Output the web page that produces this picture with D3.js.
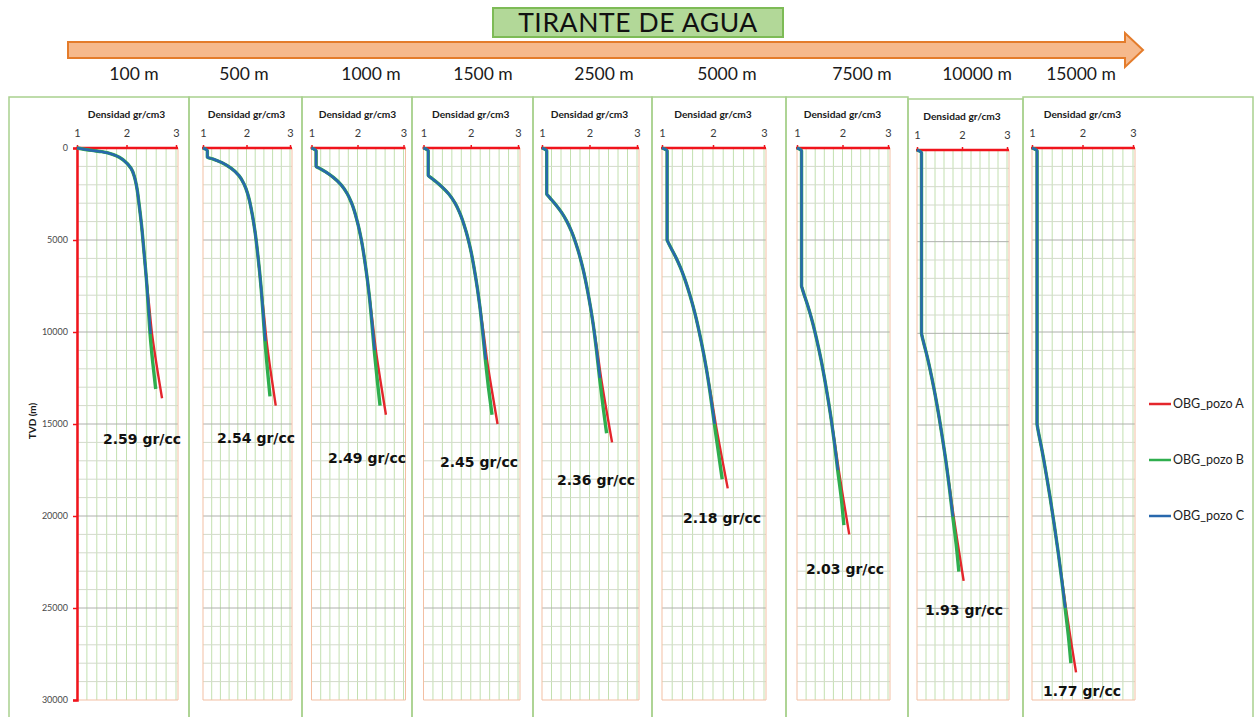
<!DOCTYPE html>
<html>
<head>
<meta charset="utf-8">
<script src="https://cdn.jsdelivr.net/npm/d3@7"></script>
<style>
  body { margin: 0; background: #fff; }
  svg { display: block; }
</style>
</head>
<body>
<svg id="chart" width="1254" height="717"></svg>
<script>
// ---- data -------------------------------------------------------------
const waterDepthLabels = ["100 m", "500 m", "1000 m", "1500 m", "2500 m", "5000 m", "7500 m", "10000 m", "15000 m"];
const densityTicks = [1, 2, 3];
const depthTicks = [0, 5000, 10000, 15000, 20000, 25000, 30000];
const seriesNames = ["OBG_pozo A", "OBG_pozo B", "OBG_pozo C"];

// each well: one profile per water depth, points are [density gr/cm3, TVD m]
const pozoA = [
  [[1.0,0],[1.3,130],[1.5,200],[1.775,400],[1.957,700],[2.091,1100],[2.164,1600],[2.205,2100],[2.256,3100],[2.3,4100],[2.352,5600],[2.401,7100],[2.459,8600],[2.516,10100],[2.597,11600],[2.718,13600]],
  [[1.0,0],[1.1,150],[1.1,500],[1.233,600],[1.438,800],[1.645,1100],[1.827,1500],[1.951,2000],[2.028,2500],[2.124,3500],[2.193,4500],[2.269,6000],[2.332,7500],[2.399,9000],[2.462,10500],[2.547,12000],[2.672,14000]],
  [[1.0,0],[1.1,150],[1.1,1000],[1.173,1100],[1.308,1300],[1.475,1600],[1.645,2000],[1.781,2500],[1.873,3000],[1.996,4000],[2.084,5000],[2.179,6500],[2.255,8000],[2.33,9500],[2.4,11000],[2.489,12500],[2.618,14500]],
  [[1.0,0],[1.1,150],[1.1,1500],[1.15,1600],[1.25,1800],[1.386,2100],[1.536,2500],[1.668,3000],[1.763,3500],[1.897,4500],[1.995,5500],[2.102,7000],[2.187,8500],[2.269,10000],[2.343,11500],[2.436,13000],[2.567,15000]],
  [[1.0,0],[1.1,150],[1.1,2500],[1.131,2600],[1.196,2800],[1.294,3100],[1.411,3500],[1.526,4000],[1.616,4500],[1.752,5500],[1.857,6500],[1.977,8000],[2.073,9500],[2.163,11000],[2.244,12500],[2.34,14000],[2.475,16000]],
  [[1.0,0],[1.1,150],[1.1,5000],[1.116,5100],[1.151,5300],[1.207,5600],[1.282,6000],[1.362,6500],[1.431,7000],[1.548,8000],[1.647,9000],[1.768,10500],[1.87,12000],[1.966,13500],[2.053,15000],[2.152,16500],[2.289,18500]],
  [[1.0,0],[1.1,150],[1.1,7500],[1.111,7600],[1.135,7800],[1.174,8100],[1.228,8500],[1.289,9000],[1.344,9500],[1.441,10500],[1.528,11500],[1.639,13000],[1.737,14500],[1.83,16000],[1.917,17500],[2.014,19000],[2.148,21000]],
  [[1.0,0],[1.1,150],[1.1,10000],[1.108,10100],[1.126,10300],[1.157,10600],[1.199,11000],[1.248,11500],[1.293,12000],[1.376,13000],[1.451,14000],[1.552,15500],[1.644,17000],[1.732,18500],[1.815,20000],[1.908,21500],[2.036,23500]],
  [[1.0,0],[1.1,150],[1.1,15000],[1.105,15100],[1.118,15300],[1.138,15600],[1.168,16000],[1.203,16500],[1.236,17000],[1.299,18000],[1.359,19000],[1.442,20500],[1.52,22000],[1.597,23500],[1.672,25000],[1.755,26500],[1.872,28500]]
];

const pozoB = [
  [[1.0,0],[1.3,130],[1.5,200],[1.775,400],[1.957,700],[2.091,1100],[2.164,1600],[2.205,2100],[2.256,3100],[2.3,4100],[2.352,5600],[2.401,7100],[2.439,8600],[2.476,10100],[2.528,11600],[2.59,13100]],
  [[1.0,0],[1.1,150],[1.1,500],[1.233,600],[1.438,800],[1.645,1100],[1.827,1500],[1.951,2000],[2.028,2500],[2.124,3500],[2.193,4500],[2.269,6000],[2.332,7500],[2.38,9000],[2.424,10500],[2.48,12000],[2.54,13500]],
  [[1.0,0],[1.1,150],[1.1,1000],[1.173,1100],[1.308,1300],[1.475,1600],[1.645,2000],[1.781,2500],[1.873,3000],[1.996,4000],[2.084,5000],[2.179,6500],[2.255,8000],[2.312,9500],[2.364,11000],[2.425,12500],[2.49,14000]],
  [[1.0,0],[1.1,150],[1.1,1500],[1.15,1600],[1.25,1800],[1.386,2100],[1.536,2500],[1.668,3000],[1.763,3500],[1.897,4500],[1.995,5500],[2.102,7000],[2.187,8500],[2.252,10000],[2.309,11500],[2.374,13000],[2.45,14500]],
  [[1.0,0],[1.1,150],[1.1,2500],[1.131,2600],[1.196,2800],[1.294,3100],[1.411,3500],[1.526,4000],[1.616,4500],[1.752,5500],[1.857,6500],[1.977,8000],[2.073,9500],[2.147,11000],[2.212,12500],[2.283,14000],[2.36,15500]],
  [[1.0,0],[1.1,150],[1.1,5000],[1.116,5100],[1.151,5300],[1.207,5600],[1.282,6000],[1.362,6500],[1.431,7000],[1.548,8000],[1.647,9000],[1.768,10500],[1.87,12000],[1.953,13500],[2.027,15000],[2.104,16500],[2.18,18000]],
  [[1.0,0],[1.1,150],[1.1,7500],[1.111,7600],[1.135,7800],[1.174,8100],[1.228,8500],[1.289,9000],[1.344,9500],[1.441,10500],[1.528,11500],[1.639,13000],[1.737,14500],[1.82,16000],[1.894,17500],[1.972,19000],[2.03,20500]],
  [[1.0,0],[1.1,150],[1.1,10000],[1.108,10100],[1.126,10300],[1.157,10600],[1.199,11000],[1.248,11500],[1.293,12000],[1.376,13000],[1.451,14000],[1.552,15500],[1.644,17000],[1.723,18500],[1.795,20000],[1.87,21500],[1.93,23000]],
  [[1.0,0],[1.1,150],[1.1,15000],[1.105,15100],[1.118,15300],[1.138,15600],[1.168,16000],[1.203,16500],[1.236,17000],[1.299,18000],[1.359,19000],[1.442,20500],[1.52,22000],[1.59,23500],[1.656,25000],[1.72,26500],[1.77,28000]]
];

const pozoC = [
  [[1.0,0],[1.3,130],[1.5,200],[1.775,400],[1.957,700],[2.091,1100],[2.164,1600],[2.205,2100],[2.256,3100],[2.3,4100],[2.352,5600],[2.401,7100],[2.444,8600],[2.486,10100]],
  [[1.0,0],[1.1,150],[1.1,500],[1.233,600],[1.438,800],[1.645,1100],[1.827,1500],[1.951,2000],[2.028,2500],[2.124,3500],[2.193,4500],[2.269,6000],[2.332,7500],[2.384,9000],[2.433,10500]],
  [[1.0,0],[1.1,150],[1.1,1000],[1.173,1100],[1.308,1300],[1.475,1600],[1.645,2000],[1.781,2500],[1.873,3000],[1.996,4000],[2.084,5000],[2.179,6500],[2.255,8000],[2.317,9500],[2.373,11000]],
  [[1.0,0],[1.1,150],[1.1,1500],[1.15,1600],[1.25,1800],[1.386,2100],[1.536,2500],[1.668,3000],[1.763,3500],[1.897,4500],[1.995,5500],[2.102,7000],[2.187,8500],[2.256,10000],[2.317,11500]],
  [[1.0,0],[1.1,150],[1.1,2500],[1.131,2600],[1.196,2800],[1.294,3100],[1.411,3500],[1.526,4000],[1.616,4500],[1.752,5500],[1.857,6500],[1.977,8000],[2.073,9500],[2.151,11000],[2.22,12500]],
  [[1.0,0],[1.1,150],[1.1,5000],[1.116,5100],[1.151,5300],[1.207,5600],[1.282,6000],[1.362,6500],[1.431,7000],[1.548,8000],[1.647,9000],[1.768,10500],[1.87,12000],[1.956,13500],[2.033,15000]],
  [[1.0,0],[1.1,150],[1.1,7500],[1.111,7600],[1.135,7800],[1.174,8100],[1.228,8500],[1.289,9000],[1.344,9500],[1.441,10500],[1.528,11500],[1.639,13000],[1.737,14500],[1.823,16000],[1.9,17500]],
  [[1.0,0],[1.1,150],[1.1,10000],[1.108,10100],[1.126,10300],[1.157,10600],[1.199,11000],[1.248,11500],[1.293,12000],[1.376,13000],[1.451,14000],[1.552,15500],[1.644,17000],[1.725,18500],[1.8,20000]],
  [[1.0,0],[1.1,150],[1.1,15000],[1.105,15100],[1.118,15300],[1.138,15600],[1.168,16000],[1.203,16500],[1.236,17000],[1.299,18000],[1.359,19000],[1.442,20500],[1.52,22000],[1.592,23500],[1.66,25000]]
];

// ---- layout & style -----------------------------------------------------
const panelLayout = [
  { box: [9, 189],     plot: [77, 176],     dy: 0, head: 134,  note: [103, 444] },
  { box: [189, 302],   plot: [203, 290],    dy: 0, head: 244,  note: [217, 443] },
  { box: [302, 412],   plot: [311.5, 403.5],dy: 0, head: 371,  note: [328, 463] },
  { box: [412, 533],   plot: [423.5, 518],  dy: 0, head: 483,  note: [440, 467] },
  { box: [533, 652],   plot: [542, 637],    dy: 0, head: 604,  note: [557, 485] },
  { box: [652, 786],   plot: [662, 764],    dy: 0, head: 727,  note: [683, 523] },
  { box: [786, 908],   plot: [797, 888],    dy: 0, head: 862,  note: [806, 574] },
  { box: [908, 1023],  plot: [917, 1007],   dy: 2, head: 977,  note: [925, 615] },
  { box: [1023, 1253], plot: [1032, 1133],  dy: 0, head: 1081, note: [1043, 696] }
];
const plotTop = 148, plotBottom = 700, boxTop = 97;
const colors = { A: "#e4262c", B: "#2fae4e", C: "#2868ad", axis: "#f0141c",
                 gridV: "#c3e0b0", gridH: "#d3dacb", gridMajor: "#aeb0ac",
                 frame: "#f3bfa3", box: "#a9d18e" };

const svg = d3.select("#chart");

// ---- header: title box and water-depth arrow ---------------------------
svg.append("rect").attr("x", 493).attr("y", 8).attr("width", 290).attr("height", 29)
  .attr("fill", "#b2d898").attr("stroke", "#7dbb56").attr("stroke-width", 2);
svg.append("text").attr("x", 638).attr("y", 32).attr("text-anchor", "middle")
  .attr("font-family", "Lato, 'Open Sans', sans-serif").attr("font-size", 26.5)
  .attr("letter-spacing", 0.6).attr("fill", "#111").text("TIRANTE DE AGUA");

svg.append("path")
  .attr("d", "M68,42 L1125,42 L1125,33 L1143,50 L1125,67 L1125,58 L68,58 Z")
  .attr("fill", "#f6b98c").attr("stroke", "#e47c2b").attr("stroke-width", 2)
  .attr("stroke-linejoin", "miter");

svg.append("g").selectAll("text").data(waterDepthLabels).join("text")
  .attr("x", (d, i) => panelLayout[i].head).attr("y", 80)
  .attr("text-anchor", "middle")
  .attr("font-family", "Lato, 'Open Sans', sans-serif").attr("font-size", 17.5)
  .attr("fill", "#1a1a1a").text(d => d);

// ---- panels --------------------------------------------------------------
const line = d3.line().curve(d3.curveMonotoneY);

panelLayout.forEach((p, i) => {
  const g = svg.append("g");
  const top = plotTop + p.dy;
  const x = d3.scaleLinear().domain([1, 3]).range(p.plot);
  const y = d3.scaleLinear().domain([0, 30000]).range([top, plotBottom]);
  const right = p.plot[1] + 2;

  // panel frame
  g.append("rect").attr("x", p.box[0]).attr("y", boxTop + p.dy)
    .attr("width", p.box[1] - p.box[0]).attr("height", 640)
    .attr("fill", "none").attr("stroke", colors.box).attr("stroke-width", 1.5);

  // grid
  const vGrid = d3.range(12, 31, 2).map(v => v / 10);
  g.append("g").selectAll("line").data(vGrid).join("line")
    .attr("x1", d => x(d)).attr("x2", d => x(d)).attr("y1", top).attr("y2", plotBottom)
    .attr("stroke", colors.gridV).attr("stroke-width", 1);
  const hGrid = d3.range(1000, 30000, 1000);
  g.append("g").selectAll("line").data(hGrid).join("line")
    .attr("x1", x(1)).attr("x2", right).attr("y1", d => y(d)).attr("y2", d => y(d))
    .attr("stroke", d => d % 5000 === 0 ? colors.gridMajor : colors.gridH)
    .attr("stroke-width", 1);
  // plot-area border
  g.append("path")
    .attr("d", `M${x(1)},${top} V${plotBottom} H${right} V${top}`)
    .attr("fill", "none").attr("stroke", colors.frame).attr("stroke-width", 1);

  // density axis (top)
  const xAxis = d3.axisTop(x).tickValues(densityTicks).tickSize(3).tickPadding(8)
    .tickFormat(d3.format("d"));
  const xa = g.append("g").attr("transform", `translate(0,${top})`).call(xAxis);
  xa.select(".domain").attr("d", `M${x(1) - 1},0 H${right}`)
    .attr("stroke", colors.axis).attr("stroke-width", 2.5);
  xa.selectAll(".tick line").attr("stroke", colors.axis).attr("stroke-width", 1.5);
  xa.selectAll(".tick text").attr("font-family", "Lato, sans-serif")
    .attr("font-size", 11).attr("fill", "#3a3a3a");

  g.append("text").attr("x", (p.plot[0] + p.plot[1]) / 2).attr("y", top - 30)
    .attr("text-anchor", "middle").attr("font-family", "Lato, sans-serif")
    .attr("font-weight", 700).attr("font-size", 10.2).attr("fill", "#1a1a1a")
    .text("Densidad gr/cm3");

  // depth axis on the first panel only
  if (i === 0) {
    const yAxis = d3.axisLeft(y).tickValues(depthTicks).tickSize(4).tickPadding(5)
      .tickFormat(d3.format("d"));
    const ya = g.append("g").attr("transform", `translate(${x(1)},0)`).call(yAxis);
    ya.select(".domain").attr("stroke", colors.axis).attr("stroke-width", 2.5);
    ya.selectAll(".tick line").attr("stroke", colors.axis).attr("stroke-width", 1.5);
    ya.selectAll(".tick text").attr("font-family", "Lato, sans-serif")
      .attr("font-size", 9).attr("fill", "#4a4a4a");
    g.append("text")
      .attr("transform", `translate(36,421) rotate(-90)`)
      .attr("text-anchor", "middle").attr("font-family", "Lato, sans-serif")
      .attr("font-weight", 700).attr("font-size", 10).attr("fill", "#1a1a1a")
      .text("TVD (m)");
  }

  line.x(d => x(d[0])).y(d => y(d[1]));
  [[pozoA[i], colors.A, 2.4], [pozoB[i], colors.B, 3.4], [pozoC[i], colors.C, 2.5]]
    .forEach(([pts, c, w]) => {
      g.append("path").attr("d", line(pts)).attr("fill", "none")
        .attr("stroke", c).attr("stroke-width", w).attr("stroke-linejoin", "round");
    });

  // overburden gradient reached by pozo B at total depth
  const last = pozoB[i][pozoB[i].length - 1];
  g.append("text").attr("x", p.note[0]).attr("y", p.note[1])
    .attr("font-family", "'DejaVu Sans', sans-serif").attr("font-weight", 700)
    .attr("font-size", 14).attr("fill", "#111")
    .text(`${last[0].toFixed(2)} gr/cc`);
});

// ---- legend ----------------------------------------------------------------
const legend = svg.append("g");
const legendY = [404, 460, 516];
const legendColors = [colors.A, colors.B, colors.C];
seriesNames.forEach((name, k) => {
  legend.append("line").attr("x1", 1149).attr("x2", 1171)
    .attr("y1", legendY[k]).attr("y2", legendY[k])
    .attr("stroke", legendColors[k]).attr("stroke-width", 2.5);
  legend.append("text").attr("x", 1173).attr("y", legendY[k] + 4)
    .attr("font-family", "Lato, sans-serif").attr("font-size", 12.5)
    .attr("fill", "#222").text(name);
});
</script>
</body>
</html>
